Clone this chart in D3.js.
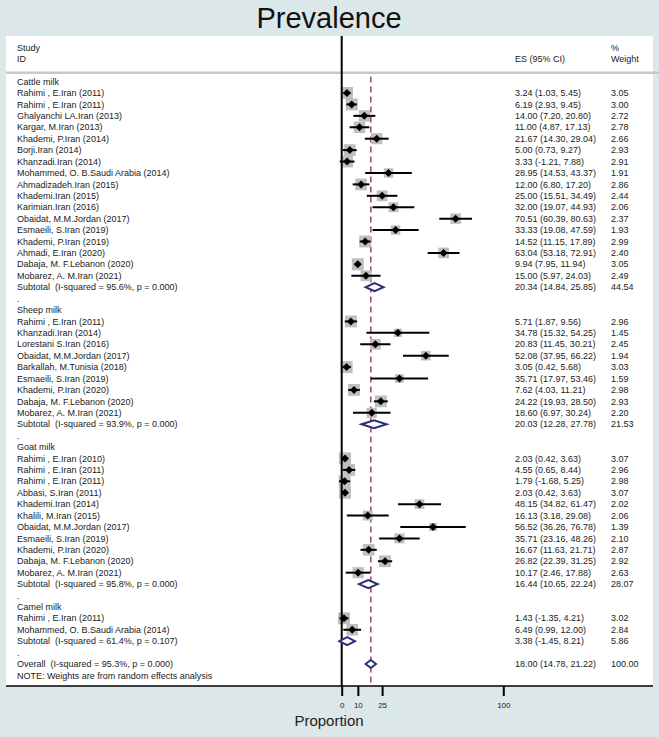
<!DOCTYPE html>
<html><head><meta charset="utf-8">
<script src="https://cdn.jsdelivr.net/npm/d3@7"></script>
<style>
body{margin:0;background:#dce7ea;}
svg{display:block;}
text{font-family:"Liberation Sans",Arial,Helvetica,sans-serif;white-space:pre;}
</style></head><body>
<svg id="chart" width="659" height="737"></svg>
<script>
// ---------- DATA ----------
const groupNames = ["Cattle milk", "Sheep milk", "Goat milk", "Camel milk"];

const cattleStudy = ["Rahimi , E.Iran (2011)","Rahimi , E.Iran (2011)","Ghalyanchi LA.Iran (2013)","Kargar, M.Iran (2013)","Khademi, P.Iran (2014)","Borji.Iran (2014)","Khanzadi.Iran (2014)","Mohammed, O. B.Saudi Arabia (2014)","Ahmadizadeh.Iran (2015)","Khademi.Iran (2015)","Karimian.Iran (2016)","Obaidat, M.M.Jordan (2017)","Esmaeili, S.Iran (2019)","Khademi, P.Iran (2019)","Ahmadi, E.Iran (2020)","Dabaja, M. F.Lebanon (2020)","Mobarez, A. M.Iran (2021)"];
const cattleES  = [3.24, 6.19, 14.00, 11.00, 21.67, 5.00, 3.33, 28.95, 12.00, 25.00, 32.00, 70.51, 33.33, 14.52, 63.04, 9.94, 15.00];
const cattleLow = [1.03, 2.93, 7.20, 4.87, 14.30, 0.73, -1.21, 14.53, 6.80, 15.51, 19.07, 60.39, 19.08, 11.15, 53.18, 7.95, 5.97];
const cattleHigh= [5.45, 9.45, 20.80, 17.13, 29.04, 9.27, 7.88, 43.37, 17.20, 34.49, 44.93, 80.63, 47.59, 17.89, 72.91, 11.94, 24.03];
const cattleWeight = [3.05, 3.00, 2.72, 2.78, 2.66, 2.93, 2.91, 1.91, 2.86, 2.44, 2.06, 2.37, 1.93, 2.99, 2.40, 3.05, 2.49];

const sheepStudy = ["Rahimi , E.Iran (2011)","Khanzadi.Iran (2014)","Lorestani S.Iran (2016)","Obaidat, M.M.Jordan (2017)","Barkallah, M.Tunisia (2018)","Esmaeili, S.Iran (2019)","Khademi, P.Iran (2020)","Dabaja, M. F.Lebanon (2020)","Mobarez, A. M.Iran (2021)"];
const sheepES   = [5.71, 34.78, 20.83, 52.08, 3.05, 35.71, 7.62, 24.22, 18.60];
const sheepLow  = [1.87, 15.32, 11.45, 37.95, 0.42, 17.97, 4.03, 19.93, 6.97];
const sheepHigh = [9.56, 54.25, 30.21, 66.22, 5.68, 53.46, 11.21, 28.50, 30.24];
const sheepWeight = [2.96, 1.45, 2.45, 1.94, 3.03, 1.59, 2.98, 2.93, 2.20];

const goatStudy = ["Rahimi , E.Iran (2010)","Rahimi , E.Iran (2011)","Rahimi , E.Iran (2011)","Abbasi, S.Iran (2011)","Khademi.Iran (2014)","Khalili, M.Iran (2015)","Obaidat, M.M.Jordan (2017)","Esmaeili, S.Iran (2019)","Khademi, P.Iran (2020)","Dabaja, M. F.Lebanon (2020)","Mobarez, A. M.Iran (2021)"];
const goatES    = [2.03, 4.55, 1.79, 2.03, 48.15, 16.13, 56.52, 35.71, 16.67, 26.82, 10.17];
const goatLow   = [0.42, 0.65, -1.68, 0.42, 34.82, 3.18, 36.26, 23.16, 11.63, 22.39, 2.46];
const goatHigh  = [3.63, 8.44, 5.25, 3.63, 61.47, 29.08, 76.78, 48.26, 21.71, 31.25, 17.88];
const goatWeight = [3.07, 2.96, 2.98, 3.07, 2.02, 2.06, 1.39, 2.10, 2.87, 2.92, 2.63];

const camelStudy = ["Rahimi , E.Iran (2011)","Mohammed, O. B.Saudi Arabia (2014)"];
const camelES   = [1.43, 6.49];
const camelLow  = [-1.35, 0.99];
const camelHigh = [4.21, 12.00];
const camelWeight = [3.02, 2.84];

const subtotalLabel = ["Subtotal  (I-squared = 95.6%, p = 0.000)","Subtotal  (I-squared = 93.9%, p = 0.000)","Subtotal  (I-squared = 95.8%, p = 0.000)","Subtotal  (I-squared = 61.4%, p = 0.107)"];
const subtotalES   = [20.34, 20.03, 16.44, 3.38];
const subtotalLow  = [14.84, 12.28, 10.65, -1.45];
const subtotalHigh = [25.85, 27.78, 22.24, 8.21];
const subtotalWeight = [44.54, 21.53, 28.07, 5.86];

const overallLabel = "Overall  (I-squared = 95.3%, p = 0.000)";
const overallES = 18.00, overallLow = 14.78, overallHigh = 21.22, overallWeight = 100.00;
const noteText = "NOTE: Weights are from random effects analysis";

const xTicks = [0, 10, 25, 100];

// ---------- BUILD ROWS ----------
const groups = [
  {study: cattleStudy, es: cattleES, lo: cattleLow, hi: cattleHigh, w: cattleWeight},
  {study: sheepStudy, es: sheepES, lo: sheepLow, hi: sheepHigh, w: sheepWeight},
  {study: goatStudy, es: goatES, lo: goatLow, hi: goatHigh, w: goatWeight},
  {study: camelStudy, es: camelES, lo: camelLow, hi: camelHigh, w: camelWeight}
];
const rows = [];
let idx = 0;
groups.forEach((g, gi) => {
  rows.push({type: "group", label: groupNames[gi], i: idx++});
  g.study.forEach((s, k) => rows.push({type: "study", label: s, es: g.es[k], lo: g.lo[k], hi: g.hi[k], w: g.w[k], i: idx++}));
  rows.push({type: "sub", label: subtotalLabel[gi], es: subtotalES[gi], lo: subtotalLow[gi], hi: subtotalHigh[gi], w: subtotalWeight[gi], i: idx++});
  rows.push({type: "dot", label: ".", i: idx++});
});
rows.push({type: "sub", label: overallLabel, es: overallES, lo: overallLow, hi: overallHigh, w: overallWeight, i: idx++});
rows.push({type: "note", label: noteText, i: idx++});

// ---------- SCALES ----------
const svg = d3.select("#chart");
const x = d3.scaleLinear().domain([0, 100]).range([341.7, 503.3]);
const y = d3.scaleLinear().domain([0, 1]).range([81.6, 93.02]);
const box = d3.scaleSqrt().domain([0, 3.05]).range([0, 12]);
const fmt = v => d3.format(".2f")(v).replace("\u2212", "-");

const panelTop = 36, panelBottom = 686, panelLeft = 6, panelRight = 653;

// panel
svg.append("rect").attr("x", panelLeft).attr("y", panelTop).attr("width", panelRight - panelLeft).attr("height", panelBottom - panelTop).attr("fill", "#ffffff");

// title
svg.append("text").attr("x", 329).attr("y", 28).attr("text-anchor", "middle").attr("font-size", 29).attr("fill", "#111").text("Prevalence");

// header
const hdr = svg.append("g").attr("font-size", 9).attr("fill", "#222");
hdr.append("text").attr("x", 17).attr("y", 47.7).attr("dy", "0.35em").text("Study");
hdr.append("text").attr("x", 17).attr("y", 59.3).attr("dy", "0.35em").text("ID");
hdr.append("text").attr("x", 515).attr("y", 59.3).attr("dy", "0.35em").text("ES (95% CI)");
hdr.append("text").attr("x", 611).attr("y", 47.7).attr("dy", "0.35em").text("%");
hdr.append("text").attr("x", 611).attr("y", 59.3).attr("dy", "0.35em").text("Weight");
svg.append("line").attr("x1", panelLeft).attr("x2", 659).attr("y1", 72.7).attr("y2", 72.7).attr("stroke", "#c8c8c8").attr("stroke-width", 2.4);

// dashed overall line
svg.append("line").attr("x1", x(overallES)).attr("x2", x(overallES)).attr("y1", 76.5).attr("y2", panelBottom)
  .attr("stroke", "#a0525e").attr("stroke-width", 1.6).attr("stroke-dasharray", "6,4");

const studies = rows.filter(r => r.type === "study");
// boxes
svg.append("g").selectAll("rect").data(studies).join("rect")
  .attr("x", d => x(d.es) - box(d.w) / 2).attr("y", d => y(d.i) - box(d.w) / 2)
  .attr("width", d => box(d.w)).attr("height", d => box(d.w)).attr("fill", "#bfbfbf");

// zero line
svg.append("line").attr("x1", x(0)).attr("x2", x(0)).attr("y1", panelTop).attr("y2", panelBottom).attr("stroke", "#000").attr("stroke-width", 2);

// CI lines
svg.append("g").selectAll("line").data(studies).join("line")
  .attr("x1", d => x(d.lo)).attr("x2", d => x(d.hi)).attr("y1", d => y(d.i)).attr("y2", d => y(d.i))
  .attr("stroke", "#000").attr("stroke-width", 2);
// point markers
svg.append("g").selectAll("path").data(studies).join("path")
  .attr("d", d => { const cx = x(d.es), cy = y(d.i), r = 4; return `M${cx},${cy - r}L${cx + r},${cy}L${cx},${cy + r}L${cx - r},${cy}Z`; })
  .attr("fill", "#000");

// subtotal diamonds
const subs = rows.filter(r => r.type === "sub");
svg.append("g").selectAll("path").data(subs).join("path")
  .attr("d", d => { const cy = y(d.i), h = 4; return `M${x(d.lo)},${cy}L${x(d.es)},${cy - h}L${x(d.hi)},${cy}L${x(d.es)},${cy + h}Z`; })
  .attr("fill", "#fff").attr("stroke", "#2d2d7c").attr("stroke-width", 2);

// row texts
const txt = svg.append("g").attr("font-size", 9).attr("fill", "#222");
txt.selectAll("text.lbl").data(rows).join("text").attr("class", "lbl")
  .attr("x", 17).attr("y", d => y(d.i)).attr("dy", "0.35em").text(d => d.label);
const numRows = rows.filter(r => r.type === "study" || r.type === "sub");
txt.selectAll("text.es").data(numRows).join("text").attr("class", "es")
  .attr("x", 515).attr("y", d => y(d.i)).attr("dy", "0.35em")
  .text(d => `${fmt(d.es)} (${fmt(d.lo)}, ${fmt(d.hi)})`);
txt.selectAll("text.wt").data(numRows).join("text").attr("class", "wt")
  .attr("x", 611).attr("y", d => y(d.i)).attr("dy", "0.35em").text(d => fmt(d.w));

// axis
svg.append("line").attr("x1", panelLeft).attr("x2", panelRight).attr("y1", panelBottom).attr("y2", panelBottom).attr("stroke", "#000").attr("stroke-width", 1.5);
const axis = d3.axisBottom(x).tickValues(xTicks).tickSize(10).tickPadding(6).tickFormat(d3.format("d"));
const ag = svg.append("g").attr("transform", `translate(0,${panelBottom})`).call(axis);
ag.select(".domain").remove();
ag.selectAll(".tick line").attr("stroke", "#000").attr("stroke-width", 2);
ag.selectAll(".tick text").attr("font-size", 8).attr("fill", "#222").attr("font-family", "Liberation Sans, Arial, sans-serif");

svg.append("text").attr("x", 329).attr("y", 721).attr("dy", "0.35em").attr("text-anchor", "middle").attr("font-size", 15).attr("fill", "#222").text("Proportion");
</script></body></html>
